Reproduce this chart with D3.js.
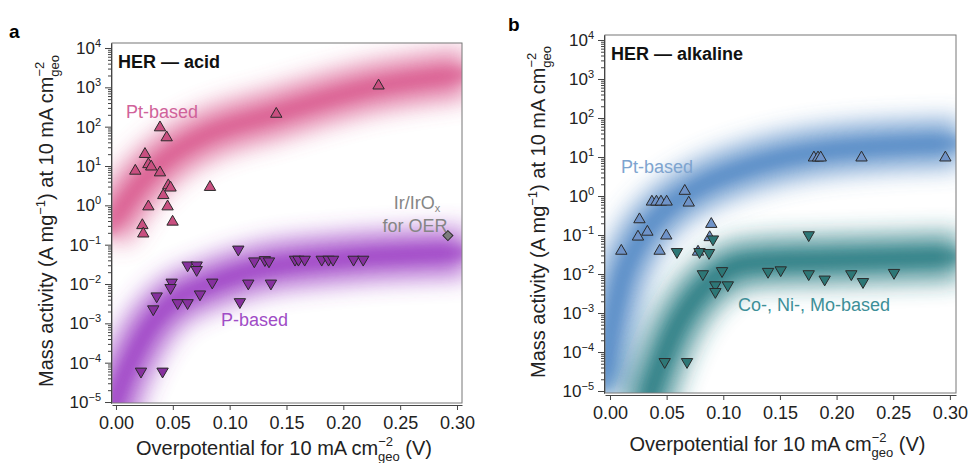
<!DOCTYPE html>
<html>
<head>
<meta charset="utf-8">
<script src="https://cdn.jsdelivr.net/npm/d3@7"></script>
<style>
  body { margin: 0; background: #fff; }
  svg { font-family: "Liberation Sans", Arial, Helvetica, sans-serif; }
</style>
</head>
<body>
<script>
// overpotential (V), mass activity (A/mg)
var acidPt = [[0.017, 7.5], [0.0255, 20], [0.0285, 11], [0.031, 9.6], [0.0387, 6.8], [0.0387, 95],
  [0.0446, 53], [0.046, 3.2], [0.048, 2.8], [0.0827, 2.9], [0.0416, 1.8], [0.0285, 0.93],
  [0.0454, 0.93], [0.0498, 0.38], [0.0232, 0.31], [0.024, 0.19], [0.141, 210], [0.231, 1100]];
var acidP = [[0.1076, 0.076], [0.1217, 0.038], [0.131, 0.041], [0.1346, 0.038],
  [0.1575, 0.042], [0.1605, 0.042], [0.166, 0.042], [0.181, 0.042], [0.187, 0.042], [0.191, 0.042],
  [0.209, 0.042], [0.2175, 0.042], [0.063, 0.03], [0.071, 0.03], [0.071, 0.023],
  [0.049, 0.011], [0.048, 0.008], [0.0847, 0.011], [0.1164, 0.0104], [0.1363, 0.0104],
  [0.0358, 0.0049], [0.0328, 0.0023], [0.0543, 0.0033], [0.063, 0.0033], [0.0739, 0.0055],
  [0.109, 0.0035], [0.022, 6e-5], [0.041, 6e-5]];
var acidIr = [[0.292, 0.17]];

var alkPt = [[0.180, 9.6], [0.1836, 9.6], [0.186, 9.6], [0.222, 9.6], [0.296, 9.6],
  [0.037, 0.71], [0.041, 0.71], [0.045, 0.71], [0.050, 0.71], [0.066, 1.34], [0.0695, 0.67],
  [0.026, 0.25], [0.033, 0.12], [0.0247, 0.09], [0.0497, 0.096], [0.010, 0.039], [0.0438, 0.039],
  [0.0894, 0.19], [0.088, 0.087], [0.0777, 0.037]];
var alkCoNiMo = [[0.0591, 0.037], [0.079, 0.037], [0.0874, 0.035], [0.0909, 0.078],
  [0.082, 0.010], [0.0989, 0.012], [0.093, 0.0052], [0.093, 0.0035], [0.104, 0.0052],
  [0.1395, 0.0115], [0.1507, 0.0126], [0.1754, 0.1], [0.1754, 0.01], [0.1895, 0.0073],
  [0.213, 0.01], [0.2233, 0.0063], [0.2507, 0.0108], [0.0483, 5.6e-5], [0.068, 5.6e-5]];

// trend bands (centre lines)
var acidPtBand = [[-0.008, 0.2], [-0.001, 0.45], [0.019, 3.0], [0.049, 20], [0.078, 60],
  [0.137, 200], [0.225, 1000], [0.31, 2240]];
var acidPBand = [[-0.006, 2.5e-6], [0.002, 1.7e-5], [0.014, 1.2e-4], [0.028, 6.9e-4],
  [0.049, 3.4e-3], [0.078, 8.7e-3], [0.122, 2.3e-2], [0.195, 4.3e-2], [0.31, 6.3e-2]];
var alkPtBand = [[-0.006, 1e-5], [0.001, 3.6e-4], [0.0097, 5.9e-3], [0.025, 6.3e-2],
  [0.0485, 0.44], [0.078, 1.7], [0.122, 5.5], [0.195, 15], [0.31, 23]];
var alkCoBand = [[0.03, 2.5e-6], [0.036, 9.3e-6], [0.045, 5.2e-5], [0.057, 3.6e-4],
  [0.0715, 1.8e-3], [0.093, 8.3e-3], [0.122, 1.9e-2], [0.195, 2.3e-2], [0.31, 2.8e-2]];

var xTicks = [0, 0.05, 0.10, 0.15, 0.20, 0.25, 0.30];
var yExps = [-5, -4, -3, -2, -1, 0, 1, 2, 3, 4];

var svg = d3.select("body").append("svg")
    .attr("width", 971)
    .attr("height", 463);

var defs = svg.append("defs");
function blur(id, sd) {
  defs.append("filter")
      .attr("id", id)
      .attr("filterUnits", "userSpaceOnUse")
      .attr("x", 0).attr("y", 0).attr("width", 971).attr("height", 463)
    .append("feGaussianBlur")
      .attr("stdDeviation", sd);
}
blur("wide", 13);
blur("core", 5);

function drawPanel(p) {
  var x = d3.scaleLinear().domain(p.xDom).range([p.left, p.right]);
  var y = d3.scaleLog().domain(p.yDom).range([p.bottom, p.top]);

  defs.append("clipPath").attr("id", "clip-" + p.id)
    .append("rect")
      .attr("x", p.left).attr("y", p.top)
      .attr("width", p.right - p.left).attr("height", p.bottom - p.top);

  var bandG = svg.append("g").attr("clip-path", "url(#clip-" + p.id + ")");
  var line = d3.line()
      .x(d => x(d[0]))
      .y(d => y(d[1]))
      .curve(d3.curveMonotoneX);

  p.bands.forEach(function(b) {
    bandG.append("path")
        .attr("d", line(b.pts))
        .attr("fill", "none")
        .attr("stroke", b.color)
        .attr("stroke-width", 44)
        .attr("opacity", 0.85)
        .attr("filter", "url(#wide)");
    bandG.append("path")
        .attr("d", line(b.pts))
        .attr("fill", "none")
        .attr("stroke", b.color)
        .attr("stroke-width", 14)
        .attr("opacity", 0.5)
        .attr("filter", "url(#core)");
  });

  // frame
  svg.append("rect")
      .attr("x", p.left).attr("y", p.top)
      .attr("width", p.right - p.left).attr("height", p.bottom - p.top)
      .attr("fill", "none")
      .attr("stroke", "#777")
      .attr("stroke-width", 1);

  // points
  var ptsG = svg.append("g").attr("clip-path", "url(#clip-" + p.id + ")");
  p.series.forEach(function(s) {
    ptsG.selectAll(null)
      .data(s.pts)
      .enter()
      .append("path")
        .attr("d", d3.symbol().type(s.shape).size(s.size))
        .attr("transform", d => `translate(${x(d[0])},${y(d[1])})` + (s.flip ? " rotate(180)" : (s.shape === d3.symbolSquare ? " rotate(45)" : "")))
        .attr("fill", s.fill)
        .attr("stroke", "#2a2a2a")
        .attr("stroke-width", 1);
  });

  // x axis
  var xAxis = svg.append("g")
      .attr("transform", `translate(0,${p.bottom + 2})`)
      .call(d3.axisBottom(x).tickValues(xTicks).tickSize(5).tickSizeOuter(0).tickPadding(6)
        .tickFormat(d3.format(".2f")));
  xAxis.selectAll("text").attr("font-size", 18).attr("fill", "#222").attr("font-family", null);
  xAxis.selectAll("line, path").attr("stroke", "#444");

  // y axis, major + minor
  var minor = [];
  for (var e = -5; e < 4; e++) {
    for (var k = 2; k <= 9; k++) minor.push(k * Math.pow(10, e));
  }
  var yMinor = svg.append("g")
      .attr("transform", `translate(${p.left - 1},0)`)
      .call(d3.axisLeft(y).tickValues(minor).tickSize(3).tickSizeOuter(0).tickFormat(""));
  yMinor.selectAll("line, path").attr("stroke", "#444");

  var yAxis = svg.append("g")
      .attr("transform", `translate(${p.left - 1},0)`)
      .call(d3.axisLeft(y).tickValues(yExps.map(v => Math.pow(10, v))).tickSize(6).tickSizeOuter(0).tickPadding(4));
  yAxis.selectAll("line, path").attr("stroke", "#444");
  yAxis.selectAll(".tick text").each(function(d, i) {
    var t = d3.select(this).text(null).attr("font-size", 17).attr("fill", "#222").attr("font-family", null);
    t.append("tspan").text("10");
    t.append("tspan").attr("dy", -7).attr("font-size", 11).text(String(yExps[i]).replace("-", "\u2212"));
  });

  // axis titles
  var xt = svg.append("text")
      .attr("x", (p.left + p.right) / 2 - 3)
      .attr("y", p.xTitleY)
      .attr("text-anchor", "middle")
      .attr("font-size", 20)
      .attr("fill", "#222");
  xt.append("tspan").text("Overpotential for 10 mA cm");
  xt.append("tspan").attr("dy", -9).attr("font-size", 13).text("\u22122");
  xt.append("tspan").attr("dx", -15).attr("dy", 15).attr("font-size", 13).text("geo");
  xt.append("tspan").attr("dy", -6).text(" (V)");

  var yt = svg.append("text")
      .attr("transform", `translate(${p.yTitleX},${(p.top + p.bottom) / 2 - 2}) rotate(-90)`)
      .attr("text-anchor", "middle")
      .attr("font-size", 20)
      .attr("fill", "#222");
  yt.append("tspan").text("Mass activity (A mg");
  yt.append("tspan").attr("dy", -8).attr("font-size", 13).text("\u22121");
  yt.append("tspan").attr("dy", 8).text(") at 10 mA cm");
  yt.append("tspan").attr("dy", -9).attr("font-size", 13).text("\u22122");
  yt.append("tspan").attr("dx", -15).attr("dy", 15).attr("font-size", 13).text("geo");

  // panel letter + title
  svg.append("text")
      .attr("x", p.letterX).attr("y", p.letterY)
      .attr("font-size", 19).attr("font-weight", "bold")
      .text(p.letter);
  svg.append("text")
      .attr("x", p.left + 6).attr("y", p.top + 25)
      .attr("font-size", 18).attr("font-weight", "bold")
      .attr("fill", "#111")
      .text(p.title);

  p.labels.forEach(function(l) {
    var t = svg.append("text")
        .attr("x", l.x).attr("y", l.y)
        .attr("font-size", 18)
        .attr("fill", l.color)
        .attr("text-anchor", l.anchor || "start");
    t.text(l.text);
  });
  return { x: x, y: y };
}

drawPanel({
  id: "a", letter: "a", letterX: 9, letterY: 38, title: "HER \u2014 acid",
  left: 112, right: 462, top: 43, bottom: 403,
  xDom: [-0.0035, 0.3044], yDom: [Math.pow(10, -5.025), Math.pow(10, 4.127)],
  xTitleY: 455, yTitleX: 53,
  bands: [
    { pts: acidPtBand, color: "#d9578c" },
    { pts: acidPBand, color: "#9b3cc4" }
  ],
  series: [
    { pts: acidPt, shape: d3.symbolTriangle, size: 56, fill: "#c94f80", flip: false },
    { pts: acidP, shape: d3.symbolTriangle, size: 56, fill: "#86309e", flip: true },
    { pts: acidIr, shape: d3.symbolSquare, size: 50, fill: "#7d7d7d", flip: false }
  ],
  labels: [
    { text: "Pt-based", x: 126, y: 118, color: "#d0629a" },
    { text: "P-based", x: 221, y: 326, color: "#a04cc6" },
    { text: "for OER", x: 415, y: 232, color: "#858585", anchor: "middle" }
  ]
});

// Ir/IrOx label with subscript
var ir = svg.append("text")
    .attr("x", 417).attr("y", 209)
    .attr("text-anchor", "middle")
    .attr("font-size", 18)
    .attr("fill", "#858585");
ir.append("tspan").text("Ir/IrO");
ir.append("tspan").attr("dy", 3).attr("font-size", 11).text("x");

drawPanel({
  id: "b", letter: "b", letterX: 508, letterY: 31, title: "HER \u2014 alkaline",
  left: 605, right: 956, top: 35, bottom: 393,
  xDom: [-0.0044, 0.3054], yDom: [Math.pow(10, -5.051), Math.pow(10, 4.128)],
  xTitleY: 451, yTitleX: 545,
  bands: [
    { pts: alkPtBand, color: "#4f86c4" },
    { pts: alkCoBand, color: "#22787f" }
  ],
  series: [
    { pts: alkPt, shape: d3.symbolTriangle, size: 56, fill: "#6f93c8", flip: false },
    { pts: alkCoNiMo, shape: d3.symbolTriangle, size: 56, fill: "#2d7776", flip: true }
  ],
  labels: [
    { text: "Pt-based", x: 621, y: 173, color: "#7ea4cf" },
    { text: "Co-, Ni-, Mo-based", x: 738, y: 311, color: "#3d8f98" }
  ]
});
</script>
</body>
</html>
